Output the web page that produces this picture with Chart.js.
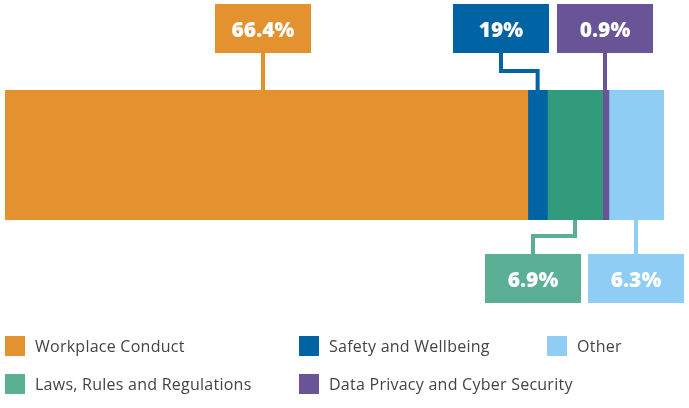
<!DOCTYPE html>
<html>
<head>
<meta charset="utf-8">
<script src="https://cdn.jsdelivr.net/npm/chart.js@4.4.0/dist/chart.umd.min.js"></script>
<style>
  html, body { margin: 0; padding: 0; background: #fff; }
  #wrap { position: relative; width: 689px; height: 408px; }
  #legend { position: absolute; left: 0; top: 0; width: 689px; height: 408px; pointer-events: none;
            font-family: "Open Sans", sans-serif; font-size: 16px; letter-spacing: 0.25px; color: #444; }
  .item { position: absolute; height: 20px; line-height: 20px; white-space: nowrap; }
  .item span { position: absolute; left: 0; top: 0; width: 20px; height: 20px; }
  .item b { position: absolute; left: 30px; top: 0; font-weight: normal; }
</style>
</head>
<body>
<div id="wrap">
  <canvas id="chart" width="689" height="408"></canvas>
  <div id="legend"></div>
</div>
<script>
// categories, in stacking order
var categories = ['Workplace Conduct', 'Safety and Wellbeing', 'Laws, Rules and Regulations',
                  'Data Privacy and Cyber Security', 'Other'];
// segment sizes as drawn on the bar
var shares = [66.4, 2.5, 7.0, 0.8, 7.0];
// the callout texts as printed
var valueLabels = ['66.4%', '19%', '6.9%', '0.9%', '6.3%'];

var barColors = ['#E4922F', '#0063A3', '#319B7B', '#6A5498', '#90CDF4'];
var tagColors = ['#E4922F', '#0063A3', '#5AAF95', '#6A5498', '#90CDF4'];

// callout placement: side of the bar and horizontal shift of the box from the segment centre
var callouts = [
  { side: 'top', shift: -3 },
  { side: 'top', shift: -37 },
  { side: 'bottom', shift: -42 },
  { side: 'top', shift: -1 },
  { side: 'bottom', shift: 0 }
];

var total = shares.reduce(function(a, b) { return a + b; }, 0);

var calloutPlugin = {
  id: 'callouts',
  afterDatasetsDraw: function(chart) {
    var ctx = chart.ctx;
    var area = chart.chartArea;
    var boxW = 96, boxH = 49, gap = 37;
    ctx.save();
    chart.data.datasets.forEach(function(ds, i) {
      var bar = chart.getDatasetMeta(i).data[0];
      var cx = (bar.base + bar.x) / 2;
      var c = callouts[i];
      var bx = Math.round(cx + c.shift);
      var top = c.side === 'top';
      var edge = top ? area.top : area.bottom;
      var boxY = top ? edge - gap - boxH : edge + gap - 3;
      var boxNear = top ? boxY + boxH : boxY;

      ctx.strokeStyle = tagColors[i];
      ctx.lineWidth = 4;
      ctx.beginPath();
      if (Math.abs(c.shift) > 6) {
        var midY = top ? edge - 19 : edge + 16;
        ctx.moveTo(cx, edge);
        ctx.lineTo(cx, midY);
        ctx.lineTo(bx, midY);
        ctx.lineTo(bx, boxNear);
      } else {
        ctx.moveTo(bx, edge);
        ctx.lineTo(bx, boxNear);
      }
      ctx.stroke();

      ctx.fillStyle = tagColors[i];
      ctx.fillRect(bx - boxW / 2, boxY, boxW, boxH);
      ctx.fillStyle = '#fff';
      ctx.font = '800 21px "Open Sans", sans-serif';
      ctx.textAlign = 'center';
      ctx.textBaseline = 'middle';
      ctx.fillText(valueLabels[i], bx, boxY + boxH / 2 + 3);
    });
    ctx.restore();
  }
};

new Chart(document.getElementById('chart'), {
  type: 'bar',
  data: {
    labels: [''],
    datasets: categories.map(function(name, i) {
      return {
        label: name,
        data: [shares[i]],
        backgroundColor: barColors[i],
        borderWidth: 0,
        barPercentage: 1,
        categoryPercentage: 1
      };
    })
  },
  options: {
    responsive: false,
    animation: false,
    indexAxis: 'y',
    layout: { padding: { left: 5, right: 25, top: 90, bottom: 188 } },
    scales: {
      x: { stacked: true, min: 0, max: total, display: false },
      y: { stacked: true, display: false }
    },
    plugins: { legend: { display: false }, tooltip: { enabled: false } }
  },
  plugins: [calloutPlugin]
});

// legend, three columns, filled row by row
var legendOrder = [0, 1, 4, 2, 3];
var colX = [5, 299, 547];
var rowY = [336, 374];
var legend = document.getElementById('legend');
legendOrder.forEach(function(idx, k) {
  var el = document.createElement('div');
  el.className = 'item';
  el.style.left = colX[k % 3] + 'px';
  el.style.top = rowY[Math.floor(k / 3)] + 'px';
  el.innerHTML = '<span style="background:' + tagColors[idx] + '"></span><b>' + categories[idx] + '</b>';
  legend.appendChild(el);
});
</script>
</body>
</html>
